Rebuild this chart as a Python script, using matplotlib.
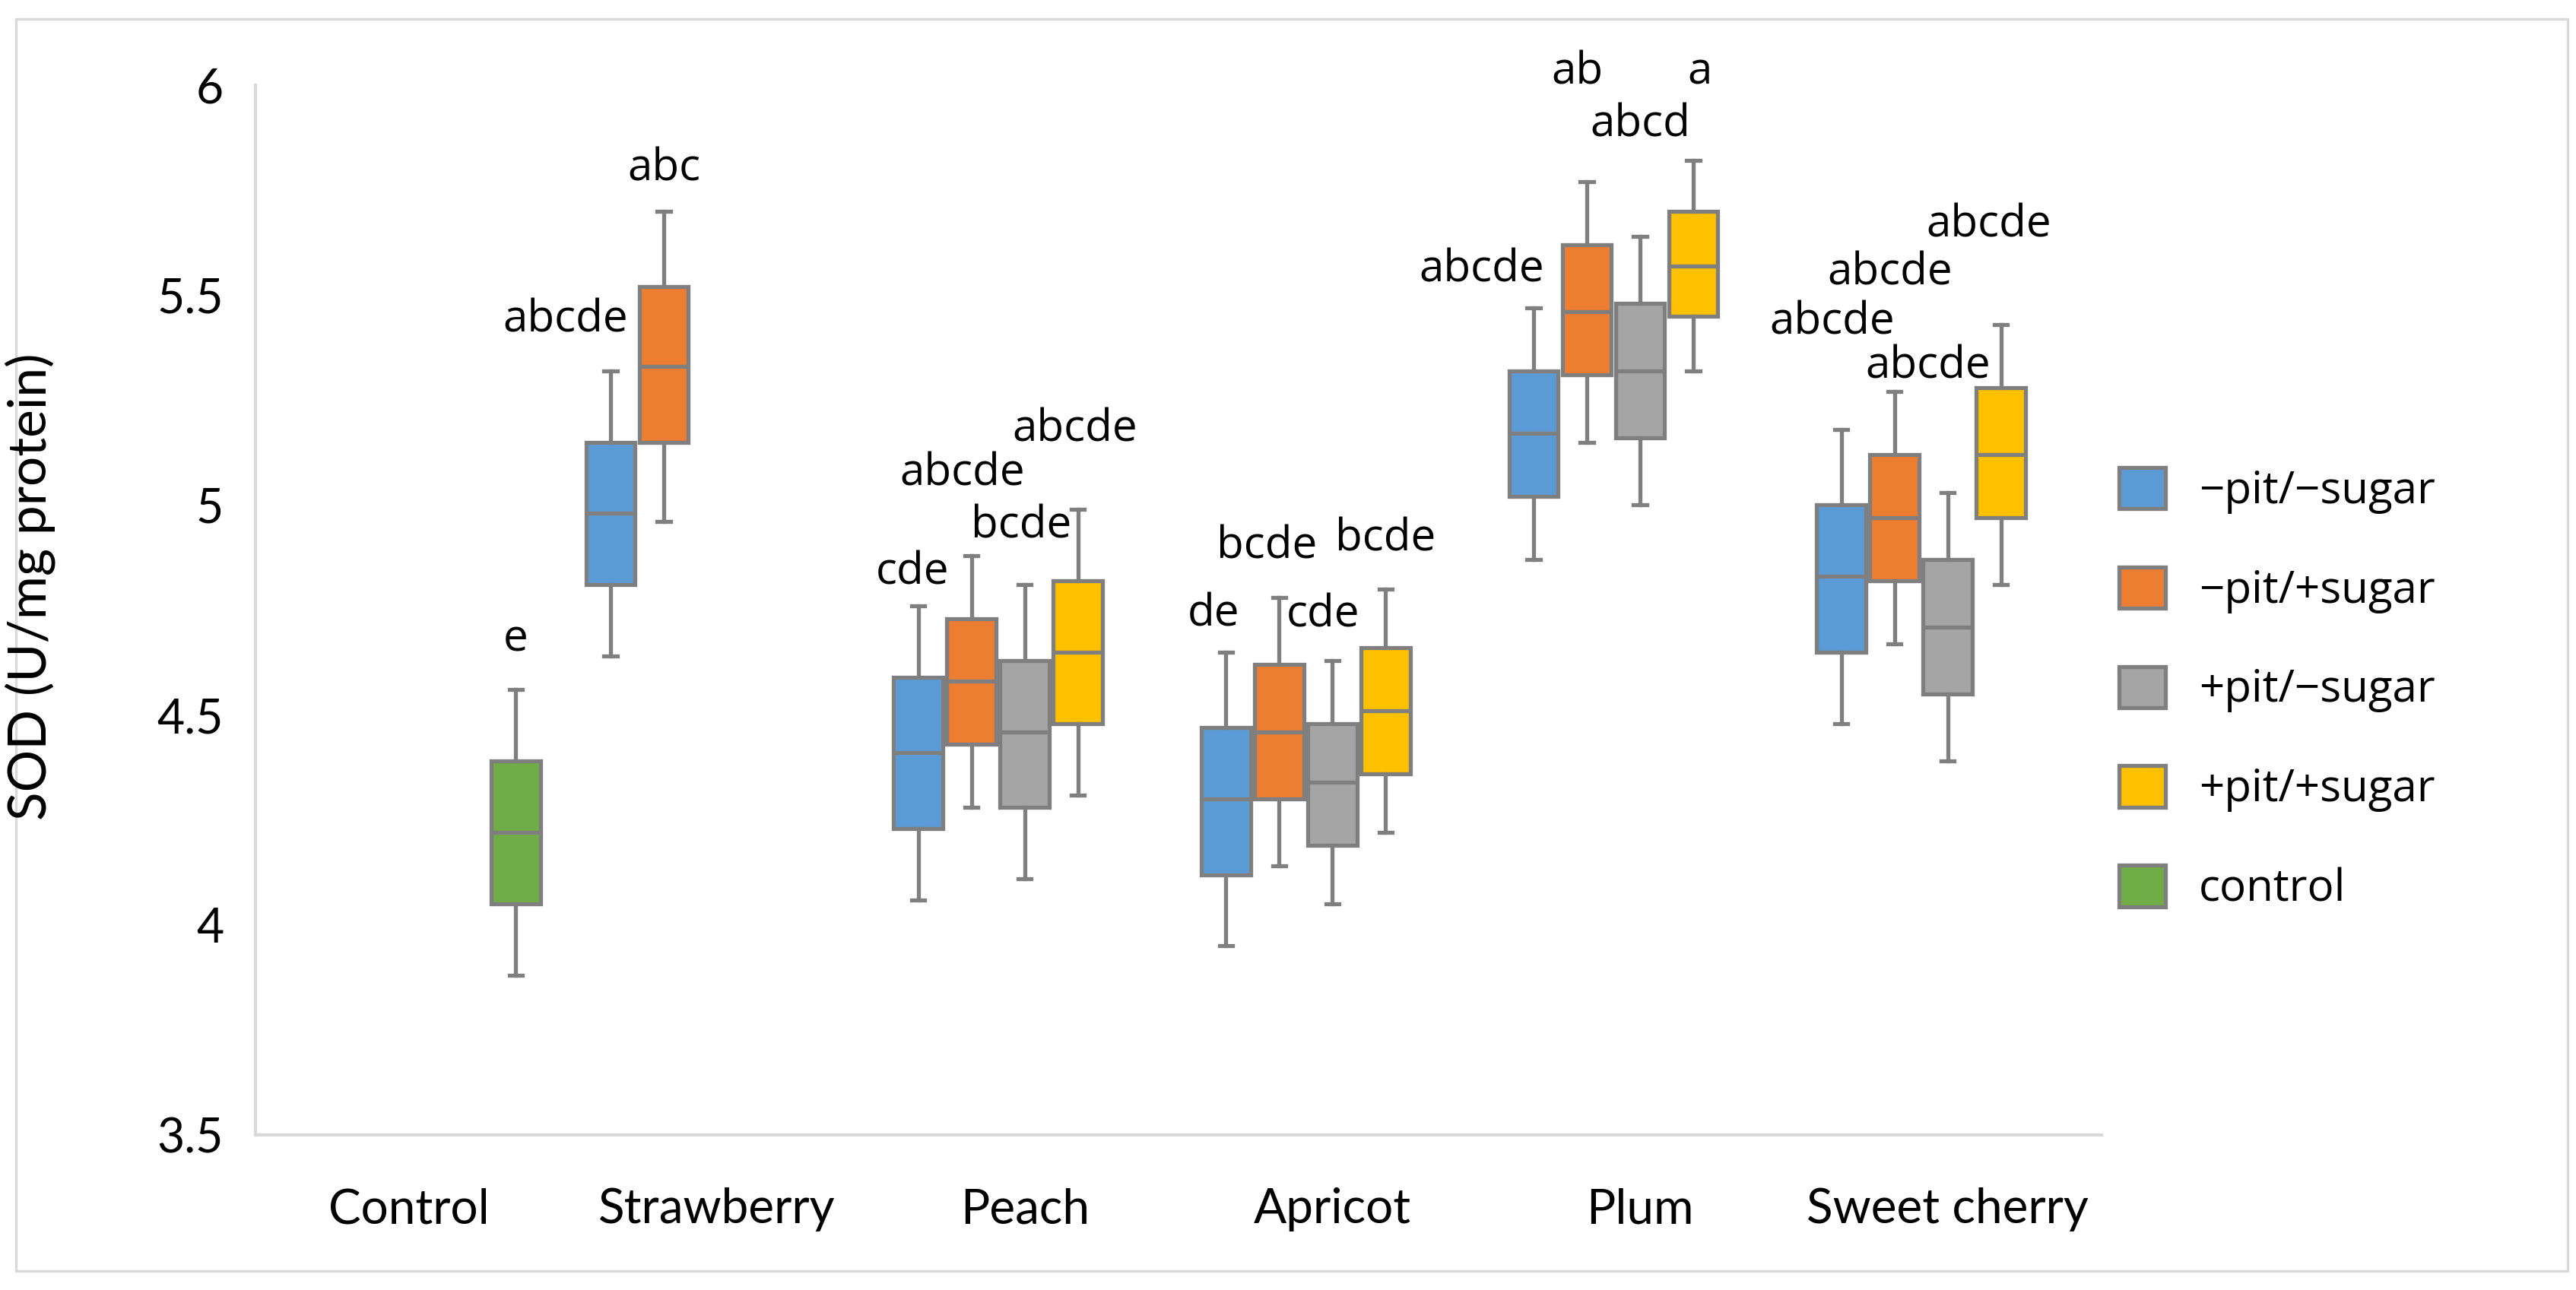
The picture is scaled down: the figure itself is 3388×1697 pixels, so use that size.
import matplotlib
matplotlib.use("Agg")
import matplotlib.pyplot as plt
from matplotlib.patches import Patch, Rectangle

categories = ["Control", "Strawberry", "Peach", "Apricot", "Plum", "Sweet cherry"]
series_names = ["\u2212pit/\u2212sugar", "\u2212pit/+sugar", "+pit/\u2212sugar", "+pit/+sugar", "control"]
colors = ["#5B9BD5", "#ED7D31", "#A5A5A5", "#FFC000", "#70AD47"]

# (whisker low, Q1, median, Q3, whisker high) per category, None = no box
neg_pit_neg_sugar = [None, (4.64, 4.81, 4.98, 5.15, 5.32), (4.06, 4.23, 4.41, 4.59, 4.76),
                     (3.95, 4.12, 4.30, 4.47, 4.65), (4.87, 5.02, 5.17, 5.32, 5.47),
                     (4.48, 4.65, 4.83, 5.00, 5.18)]
neg_pit_pos_sugar = [None, (4.96, 5.15, 5.33, 5.52, 5.70), (4.28, 4.43, 4.58, 4.73, 4.88),
                     (4.14, 4.30, 4.46, 4.62, 4.78), (5.15, 5.31, 5.46, 5.62, 5.77),
                     (4.67, 4.82, 4.97, 5.12, 5.27)]
pos_pit_neg_sugar = [None, None, (4.11, 4.28, 4.46, 4.63, 4.81),
                     (4.05, 4.19, 4.34, 4.48, 4.63), (5.00, 5.16, 5.32, 5.48, 5.64),
                     (4.39, 4.55, 4.71, 4.87, 5.03)]
pos_pit_pos_sugar = [None, None, (4.31, 4.48, 4.65, 4.82, 4.99),
                     (4.22, 4.36, 4.51, 4.66, 4.80), (5.32, 5.45, 5.57, 5.70, 5.82),
                     (4.81, 4.97, 5.12, 5.28, 5.43)]
control_group = [(3.88, 4.05, 4.22, 4.39, 4.56), None, None, None, None, None]
all_series = [neg_pit_neg_sugar, neg_pit_pos_sugar, pos_pit_neg_sugar, pos_pit_pos_sugar, control_group]

# significance letters per series / category
letters = [
    [None, "abcde", "cde", "de", "abcde", "abcde"],
    [None, "abc", "abcde", "bcde", "ab", "abcde"],
    [None, None, "bcde", "cde", "abcd", "abcde"],
    [None, None, "abcde", "bcde", "a", "abcde"],
    ["e", None, None, None, None, None],
]
# where the letters sit (y in data units, x shift in category units)
letter_y = [
    [None, 5.44, 4.84, 4.74, 5.56, 5.434],
    [None, 5.80, 5.075, 4.90, 6.03, 5.552],
    [None, None, 4.95, 4.738, 5.905, 5.33],
    [None, None, 5.179, 4.919, 6.03, 5.667],
    [4.68, None, None, None, None, None],
]
letter_dx = [
    [0, -0.146, -0.02, -0.04, -0.17, -0.03],
    [0, 0, -0.03, -0.04, -0.03, -0.015],
    [0, 0, -0.01, -0.03, 0, -0.065],
    [0, 0, -0.01, 0, 0.02, -0.04],
    [0, 0, 0, 0, 0, 0],
]

W, H, DPI = 3388, 1697, 200
edge = "#7F7F7F"
axis_col = "#D9D9D9"
slot = 0.173
box_w = 0.16

fig = plt.figure(figsize=(W / DPI, H / DPI), dpi=DPI)
ax = fig.add_axes([336 / W, 1 - 1493 / H, (2764 - 336) / W, (1493 - 112) / H])

for s, stats in enumerate(all_series):
    boxes, pos = [], []
    for c, v in enumerate(stats):
        if v is None:
            continue
        lo, q1, med, q3, hi = v
        boxes.append(dict(whislo=lo, q1=q1, med=med, q3=q3, whishi=hi, fliers=[]))
        pos.append(c + (s - 2) * slot)
    ax.bxp(boxes, positions=pos, widths=box_w, capwidths=box_w * 0.27,
           showfliers=False, patch_artist=True,
           boxprops=dict(facecolor=colors[s], edgecolor=edge, linewidth=1.9),
           medianprops=dict(color=edge, linewidth=1.9),
           whiskerprops=dict(color=edge, linewidth=1.9),
           capprops=dict(color=edge, linewidth=1.9))
    for c, txt in enumerate(letters[s]):
        if txt is None:
            continue
        ax.text(c + (s - 2) * slot + letter_dx[s][c], letter_y[s][c], txt,
                ha="center", va="center", fontsize=21, family="Open Sans", color="black")

ax.set_xlim(-0.5, 5.5)
ax.set_ylim(3.5, 6)
ax.set_xticks(range(len(categories)))
ax.set_xticklabels(categories, fontsize=23, family="Lato")
ax.set_yticks([3.5, 4, 4.5, 5, 5.5, 6])
ax.set_yticklabels(["3.5", "4", "4.5", "5", "5.5", "6"], fontsize=22.5, family="Lato")
ax.tick_params(axis="both", length=0)
ax.tick_params(axis="x", pad=25)
ax.tick_params(axis="y", pad=15)
for side in ["top", "right"]:
    ax.spines[side].set_visible(False)
for side in ["left", "bottom"]:
    ax.spines[side].set_color(axis_col)
    ax.spines[side].set_linewidth(1.5)

fig.text(40 / W, 1 - 772 / H, "SOD (U/mg protein)", rotation=90, ha="center", va="center",
         fontsize=25, family="Lato")

handles = [Patch(facecolor=colors[i], edgecolor=edge, linewidth=1.9, label=series_names[i])
           for i in range(len(series_names))]
fig.legend(handles=handles, loc="center left", bbox_to_anchor=(2787 / W, 1 - 907 / H),
           frameon=False, prop={"family": "Open Sans", "size": 21},
           handlelength=1.05, handleheight=1.05, handletextpad=0.75,
           labelspacing=1.2, borderpad=0, borderaxespad=0)

# chart area border
fig.patches.append(Rectangle((21 / W, 1 - 1672 / H), (3377 - 21) / W, (1672 - 25) / H,
                             transform=fig.transFigure, fill=False, edgecolor=axis_col,
                             linewidth=1.2))

fig.savefig("out.png", dpi=DPI)
